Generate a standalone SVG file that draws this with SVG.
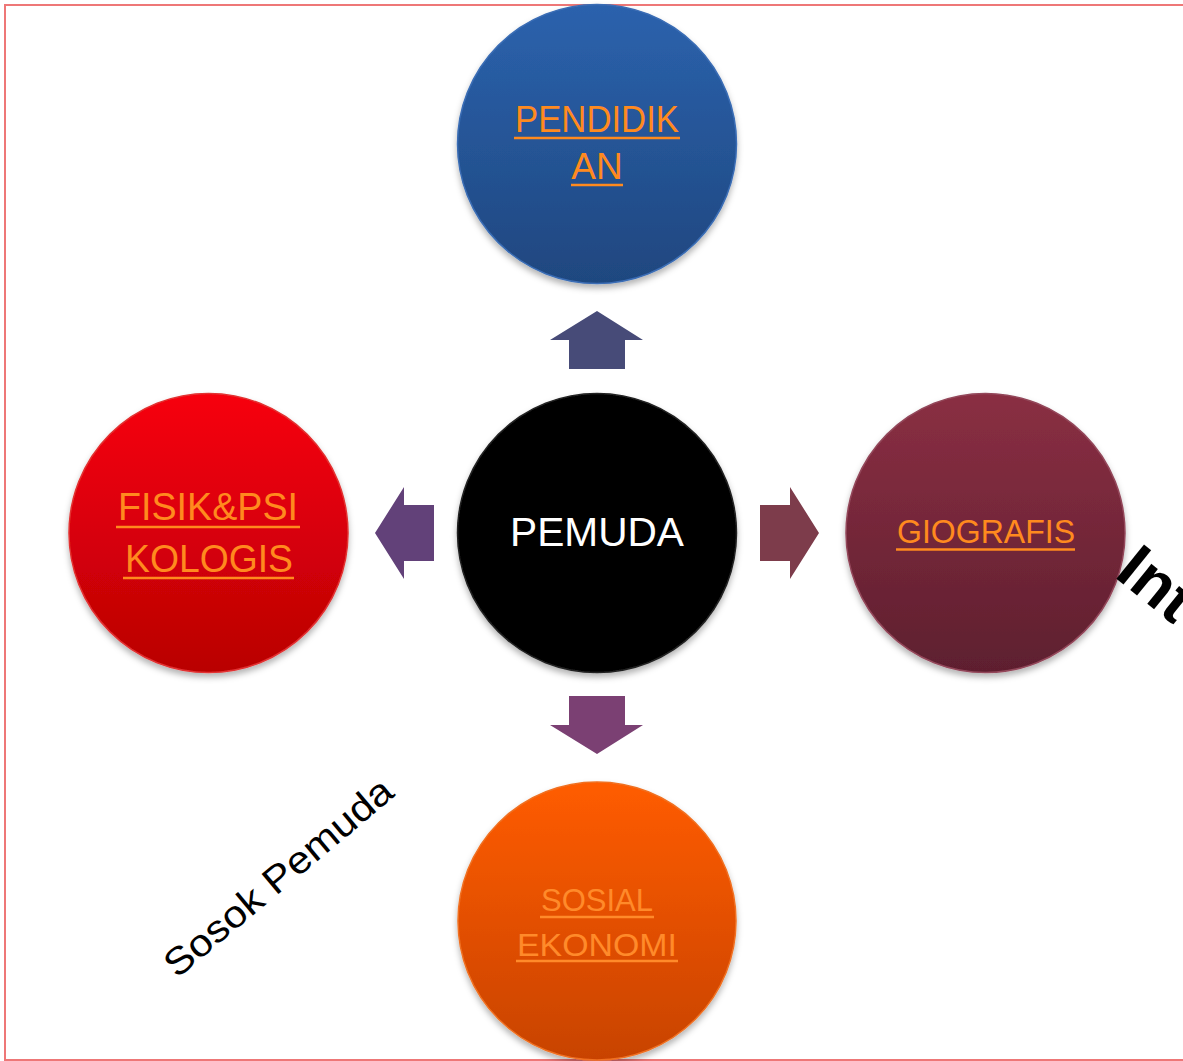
<svg xmlns="http://www.w3.org/2000/svg" width="1183" height="1061" viewBox="0 0 1183 1061">
<defs>
<linearGradient id="gBlue" x1="0" y1="0" x2="0" y2="1"><stop offset="0" stop-color="#2b62ad"/><stop offset="1" stop-color="#1f477f"/></linearGradient>
<linearGradient id="gRed" x1="0" y1="0" x2="0" y2="1"><stop offset="0" stop-color="#f7000e"/><stop offset="1" stop-color="#b90003"/></linearGradient>
<linearGradient id="gWine" x1="0" y1="0" x2="0" y2="1"><stop offset="0" stop-color="#8a2f43"/><stop offset="1" stop-color="#5e1f2f"/></linearGradient>
<linearGradient id="gOrange" x1="0" y1="0" x2="0" y2="1"><stop offset="0" stop-color="#ff5c00"/><stop offset="1" stop-color="#c84300"/></linearGradient>
<filter id="sh" x="-20%" y="-20%" width="140%" height="150%"><feDropShadow dx="0" dy="4" stdDeviation="3" flood-color="#000" flood-opacity="0.3"/></filter>
</defs>
<style>
.lbl{font-family:"Liberation Sans",Arial,sans-serif;fill:#ff8a1e;text-anchor:middle;text-decoration:underline;}
.ul{stroke:#ff8a1e;stroke-width:2.5;}
.circ{filter:url(#sh);stroke-width:1.5;}
</style>
<rect x="5" y="5" width="1200" height="1055" fill="#fff" stroke="#ee7777" stroke-width="2"/>

<g id="connectors">
<polygon points="597,311 643,340 625,340 625,369 569,369 569,340 550,340" fill="#474b78"/>
<polygon points="597,754 643,725 625,725 625,696 569,696 569,725 550,725" fill="#7b4073"/>
<polygon points="375,533 404,487 404,505 434,505 434,561 404,561 404,579" fill="#624179"/>
<polygon points="819,533 790,487 790,505 760,505 760,561 790,561 790,579" fill="#7d3c4b"/>
</g>

<g id="pendidikan">
<circle class="circ" cx="597" cy="144" r="139.5" fill="url(#gBlue)" stroke="#3a6db5"/>
<text x="597" y="132" font-family="Liberation Sans,Arial,sans-serif" font-size="37" fill="#ff8a1e" text-anchor="middle" textLength="164" lengthAdjust="spacingAndGlyphs">PENDIDIK</text>
<line class="ul" x1="514" y1="138" x2="680" y2="138"/>
<text x="597" y="179" font-family="Liberation Sans,Arial,sans-serif" font-size="37" fill="#ff8a1e" text-anchor="middle">AN</text>
<line class="ul" x1="571" y1="185" x2="623" y2="185"/>
</g>

<g id="pemuda">
<circle class="circ" cx="597" cy="533" r="139.5" fill="#000" stroke="#222"/>
<text x="597" y="546" font-family="Liberation Sans,Arial,sans-serif" font-size="40" fill="#fff" text-anchor="middle" textLength="174" lengthAdjust="spacingAndGlyphs">PEMUDA</text>
</g>

<g id="fisik">
<circle class="circ" cx="208.5" cy="533" r="139.5" fill="url(#gRed)" stroke="#e23030"/>
<text x="208" y="520" font-family="Liberation Sans,Arial,sans-serif" font-size="38" fill="#ff8a1e" text-anchor="middle" textLength="180" lengthAdjust="spacingAndGlyphs">FISIK&amp;PSI</text>
<line class="ul" x1="116" y1="527" x2="300" y2="527"/>
<text x="209" y="572" font-family="Liberation Sans,Arial,sans-serif" font-size="38" fill="#ff8a1e" text-anchor="middle" textLength="168" lengthAdjust="spacingAndGlyphs">KOLOGIS</text>
<line class="ul" x1="123" y1="578" x2="294" y2="578"/>
</g>

<g id="giografis">
<circle class="circ" cx="985.5" cy="533" r="139.5" fill="url(#gWine)" stroke="#93475a"/>
<text x="986" y="543" font-family="Liberation Sans,Arial,sans-serif" font-size="33" fill="#ff8a1e" text-anchor="middle" textLength="178" lengthAdjust="spacingAndGlyphs">GIOGRAFIS</text>
<line class="ul" x1="896" y1="549.5" x2="1075" y2="549.5"/>
</g>

<g id="sosial">
<circle class="circ" cx="597" cy="921" r="139" fill="url(#gOrange)" stroke="#f07020"/>
<text x="597" y="911" font-family="Liberation Sans,Arial,sans-serif" font-size="32" fill="#ff8a2a" text-anchor="middle" textLength="112" lengthAdjust="spacingAndGlyphs">SOSIAL</text>
<line x1="540" y1="917" x2="654" y2="917" stroke="#ff8a2a" stroke-width="2.5"/>
<text x="597" y="956" font-family="Liberation Sans,Arial,sans-serif" font-size="32" fill="#ff8a2a" text-anchor="middle" textLength="160" lengthAdjust="spacingAndGlyphs">EKONOMI</text>
<line x1="516" y1="961" x2="678" y2="961" stroke="#ff8a2a" stroke-width="2.5"/>
</g>

<text x="0" y="0" transform="translate(177,979) rotate(-40)" font-family="Liberation Sans,Arial,sans-serif" font-size="38" fill="#000" textLength="286" lengthAdjust="spacingAndGlyphs">Sosok Pemuda</text>
<text x="0" y="0" transform="translate(1113,576) rotate(39)" font-family="Liberation Sans,Arial,sans-serif" font-weight="bold" font-size="64" fill="#000">Int</text>
</svg>
